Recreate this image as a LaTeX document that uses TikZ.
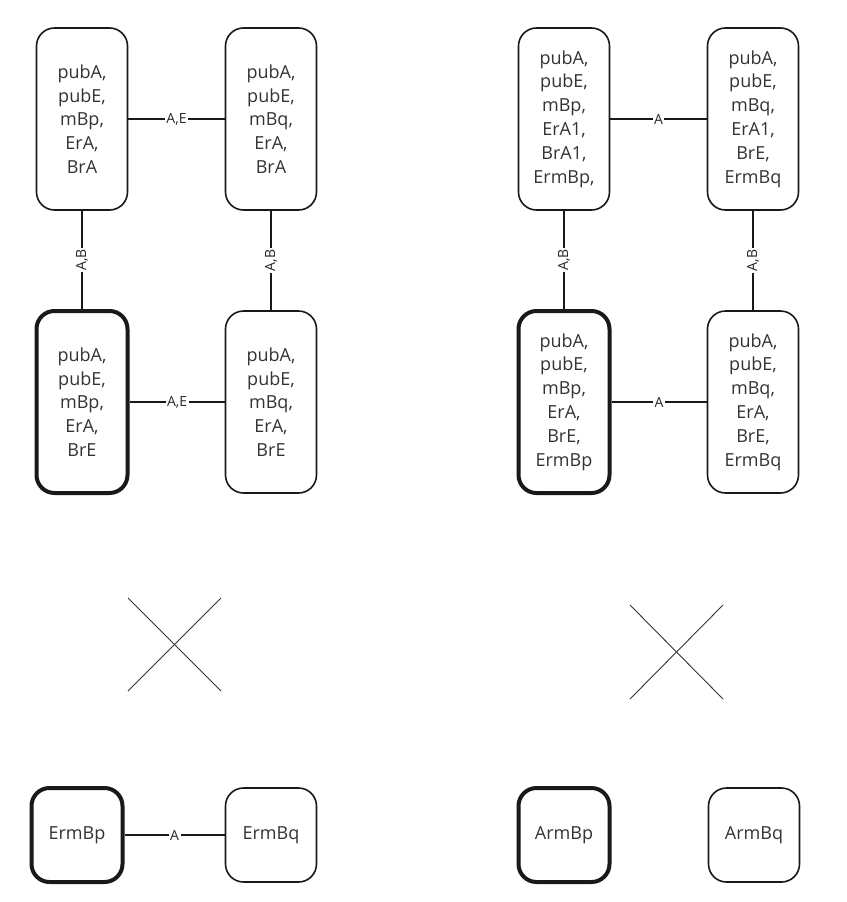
\documentclass[tikz,border=0pt]{standalone}
\usepackage{fontspec}
\setmainfont{Open Sans}
\begin{document}
\begin{tikzpicture}[x=1pt,y=-1pt,
  box/.style={draw=black!90,line width=1.6pt,rounded corners=18pt,minimum width=91pt,minimum height=182pt,inner sep=0pt,align=center,text=black!80,font=\fontsize{18}{23.8}\selectfont},
  sbox/.style={box,minimum height=94pt},
  bold/.style={line width=4pt},
  conn/.style={draw=black!90,line width=1.6pt},
  lab/.style={fill=white,inner sep=1.5pt,text=black!85,font=\fontsize{14}{14}\selectfont},
  crs/.style={draw=black!80,line width=0.9pt}]
\useasboundingbox (0,0) rectangle (846,902);
% left group
\node[box] (a1) at (82,119) {pubA,\\pubE,\\mBp,\\ErA,\\BrA};
\node[box] (a2) at (271,119) {pubA,\\pubE,\\mBq,\\ErA,\\BrA};
\node[box,bold] (a3) at (82,402) {pubA,\\pubE,\\mBp,\\ErA,\\BrE};
\node[box] (a4) at (271,402) {pubA,\\pubE,\\mBq,\\ErA,\\BrE};
\draw[conn] (a1) -- node[lab] {A,E} (a2);
\draw[conn] (a3) -- node[lab] {A,E} (a4);
\draw[conn] (a1) -- node[lab,rotate=90] {A,B} (a3);
\draw[conn] (a2) -- node[lab,rotate=90] {A,B} (a4);
% right group
\node[box] (b1) at (564,119) {pubA,\\pubE,\\mBp,\\ErA1,\\BrA1,\\ErmBp,};
\node[box] (b2) at (753,119) {pubA,\\pubE,\\mBq,\\ErA1,\\BrE,\\ErmBq};
\node[box,bold] (b3) at (564,402) {pubA,\\pubE,\\mBp,\\ErA,\\BrE,\\ErmBp};
\node[box] (b4) at (753,402) {pubA,\\pubE,\\mBq,\\ErA,\\BrE,\\ErmBq};
\draw[conn] (b1) -- node[lab] {A} (b2);
\draw[conn] (b3) -- node[lab] {A} (b4);
\draw[conn] (b1) -- node[lab,rotate=90] {A,B} (b3);
\draw[conn] (b2) -- node[lab,rotate=90] {A,B} (b4);
% crosses
\draw[crs] (128,598) -- (221,691);
\draw[crs] (221,598) -- (128,691);
\draw[crs] (630,605) -- (723,699);
\draw[crs] (723,605) -- (630,699);
% bottom
\node[sbox,bold] (c1) at (77,835) {ErmBp};
\node[sbox] (c2) at (271,835) {ErmBq};
\draw[conn] (c1) -- node[lab] {A} (c2);
\node[sbox,bold] (d1) at (564,835) {ArmBp};
\node[sbox] (d2) at (754,835) {ArmBq};
\end{tikzpicture}
\end{document}
